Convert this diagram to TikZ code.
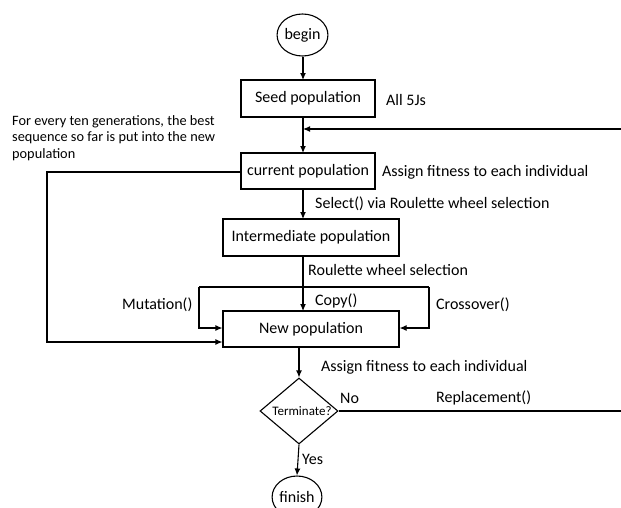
\documentclass[tikz,border=0pt]{standalone}
\usepackage{fontspec}
\setmainfont{Carlito}
\usetikzlibrary{arrows.meta,shapes.geometric}
\tikzset{
  box/.style={draw,line width=1.1pt,minimum width=#1,minimum height=36pt,inner sep=0pt,font=\fontsize{16}{18}\selectfont},
  term/.style={draw,ellipse,line width=1.1pt,minimum width=48pt,minimum height=42pt,inner sep=0pt,font=\fontsize{16}{18}\selectfont},
  lbl/.style={anchor=west,inner sep=0pt,font=\fontsize{16}{18}\selectfont},
  conn/.style={line width=1.1pt,-{Latex[length=7pt,width=6pt]}},
  wire/.style={line width=1.1pt}
}
\begin{document}
\begin{tikzpicture}[x=1pt,y=-1pt]
\useasboundingbox (0,0) rectangle (621,507);
\clip (0,0) rectangle (621,507);
% nodes
\node[term] (begin) at (302.5,35) {begin};
\node[box=134pt,minimum height=37pt] (seed) at (308,98.5) {Seed population};
\node[box=134pt] (cur) at (308,171) {current population};
\node[box=176pt,minimum height=37pt] (inter) at (311,237.5) {Intermediate population};
\node[box=176pt] (new) at (311,329) {New population};
\node[draw,diamond,line width=1.1pt,minimum width=78pt,minimum height=66pt,inner sep=0pt,font=\fontsize{13}{14}\selectfont] (dec) at (299,411) {\makebox[0pt]{\hspace{6pt}Terminate?}};
\node[term] (fin) at (297,497) {finish};
% coordinates
\coordinate (m1) at (303,129);
\coordinate (r1) at (640,129);
\coordinate (r2) at (640,411);
\coordinate (fl1) at (47,172);
\coordinate (fl2) at (47,342);
\coordinate (ml) at (199,287);
\coordinate (ml2) at (199,328);
\coordinate (mr) at (429,287);
\coordinate (mr2) at (429,328);
% connectors
\draw[conn] (begin.south -| 303,0) -- (303,80);
\draw[conn] (303,117) -- (303,153);
\draw[conn] (r1) -- (m1);
\draw[conn] (303,189) -- (303,219);
\draw[conn] (303,256) -- (303,311);
\draw[conn] (cur.west |- 0,172) -- (fl1) -- (fl2) -- (new.west |- fl2);
\draw[wire] (mr) -- (ml);
\draw[conn] (ml) -- (ml2) -- (new.west |- ml2);
\draw[conn] (mr) -- (mr2) -- (new.east |- mr2);
\draw[conn] (299,347) -- (dec.north);
\draw[wire] (dec.east) -- (r2) -- (r1);
\draw[conn] (dec.south) -- (fin.north);
% labels
\node[lbl] (l5j) at (386,100) {All 5Js};
\node[anchor=north west,inner sep=0pt,align=left,font=\fontsize{14.3}{16.5}\selectfont] (note) at (12,115) {For every ten generations, the best\\sequence so far is put into the new\\population};
\node[lbl] (af1) at (382,172) {Assign fitness to each individual};
\node[lbl] (sel) at (315,204) {Select() via Roulette wheel selection};
\node[lbl] (rws) at (308,270) {Roulette wheel selection};
\node[lbl] (mut) at (122,305) {Mutation()};
\node[lbl] (copy) at (315,301) {Copy()};
\node[lbl] (cross) at (436,305) {Crossover()};
\node[lbl] (af2) at (321,367) {Assign fitness to each individual};
\node[lbl] (no) at (340,398) {No};
\node[lbl] (rep) at (436,398) {Replacement()};
\node[lbl] (yes) at (302,459) {Yes};
\end{tikzpicture}
\end{document}
